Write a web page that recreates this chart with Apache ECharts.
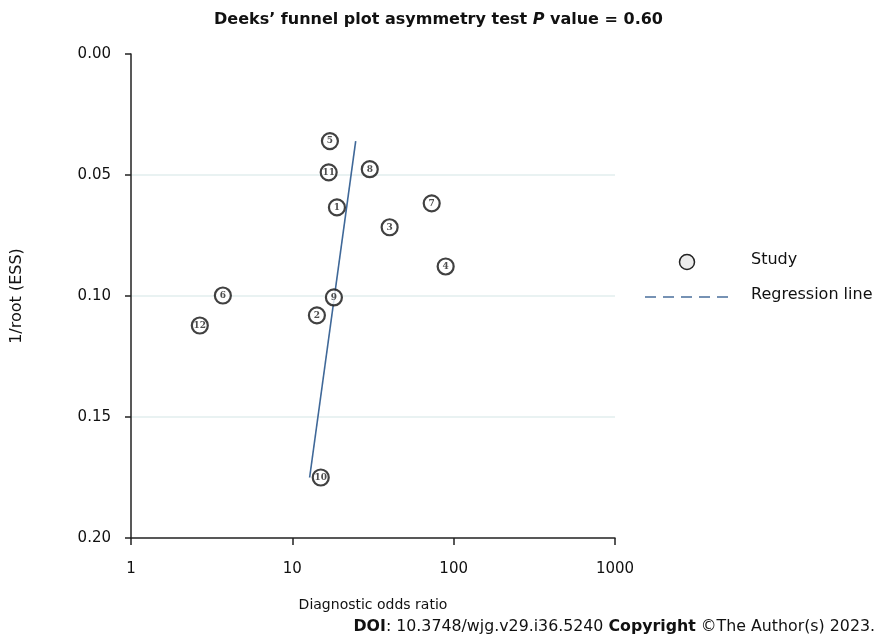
<!DOCTYPE html>
<html><head><meta charset="utf-8">
<script src="https://cdn.jsdelivr.net/npm/echarts@6/dist/echarts.min.js"></script>
<style>html,body{margin:0;padding:0;background:#fff}#c{width:877px;height:643px}</style>
</head><body><div id="c"></div>
<script>
// Study data
const studyIds = ['1','2','3','4','5','6','7','8','9','10','11','12'];
const dor = [18.9, 14.2, 40.1, 89.2, 17.1, 3.71, 73.1, 30.2, 18.1, 15.0, 16.8, 2.67];
const invRootEss = [0.0634, 0.108, 0.0716, 0.0878, 0.036, 0.0998, 0.0617, 0.0476, 0.1006, 0.175, 0.0489, 0.1122];
// Regression line end points
const regX = [12.8, 24.7];
const regY = [0.175, 0.036];
const yTicks = [0, 0.05, 0.10, 0.15, 0.20];
const xTicks = [1, 10, 100, 1000];

const font = 'DejaVu Sans';
const chart = echarts.init(document.getElementById('c'));
chart.setOption({
  animation: false,
  backgroundColor: '#fff',
  title: {
    text: 'Deeks’ funnel plot asymmetry test {i|P} value = 0.60',
    left: 'center', top: 7,
    textStyle: {fontFamily: font, fontSize: 16, fontWeight: 'bold', color: '#111',
      rich: {i: {fontFamily: font, fontSize: 16, fontWeight: 'bold', fontStyle: 'italic', color: '#111'}}}
  },
  grid: {left: 131, right: 262, top: 54, bottom: 105},
  xAxis: {
    type: 'log', logBase: 10, min: xTicks[0], max: xTicks[xTicks.length - 1],
    position: 'bottom',
    name: 'Diagnostic odds ratio', nameLocation: 'middle', nameGap: 60,
    nameTextStyle: {fontFamily: font, fontSize: 14, color: '#111'},
    axisLine: {show: true, onZero: false, lineStyle: {color: '#222', width: 1.5}},
    axisTick: {show: true, inside: false, length: 7, lineStyle: {color: '#222', width: 1.5}},
    minorTick: {show: false},
    axisLabel: {fontFamily: font, fontSize: 15, color: '#111', margin: 24,
      formatter: v => String(Math.round(v))},
    splitLine: {show: false}
  },
  yAxis: {
    type: 'value', inverse: true, min: yTicks[0], max: yTicks[yTicks.length - 1], interval: 0.05,
    name: '1/root (ESS)', nameLocation: 'middle', nameGap: 106, nameRotate: 90,
    nameTextStyle: {fontFamily: font, fontSize: 16, color: '#111'},
    axisLine: {show: true, onZero: false, lineStyle: {color: '#222', width: 1.5}},
    axisTick: {show: true, inside: false, length: 6, lineStyle: {color: '#222', width: 1.5}},
    axisLabel: {fontFamily: font, fontSize: 15, color: '#111', margin: 20,
      formatter: v => v.toFixed(2)},
    splitLine: {show: true, showMinLine: false, showMaxLine: false,
      lineStyle: {color: '#e2eeee', width: 1.5}}
  },
  series: [
    {
      type: 'line', name: 'Regression line',
      data: regX.map((x, i) => [x, regY[i]]),
      symbol: 'none', z: 2,
      lineStyle: {color: '#3f6898', width: 1.6}
    },
    {
      type: 'scatter', name: 'Study',
      data: dor.map((x, i) => ({value: [x, invRootEss[i]], name: studyIds[i]})),
      symbol: 'circle', symbolSize: 16, z: 3,
      itemStyle: {color: '#fff', borderColor: '#111', borderWidth: 2.2},
      label: {show: true, position: 'inside', formatter: p => p.name,
        fontFamily: 'DejaVu Serif', fontSize: 9, fontWeight: 'bold', color: '#222'}
    }
  ],
  graphic: [
    {type: 'circle', shape: {cx: 687, cy: 262, r: 7.5}, style: {fill: '#ececec', stroke: '#222', lineWidth: 1.5}},
    {type: 'text', left: 751, top: 252, style: {text: 'Study', font: '16px "DejaVu Sans"', fill: '#111'}},
    {type: 'line', shape: {x1: 645, y1: 297, x2: 731, y2: 297}, style: {stroke: '#4a6f9c', lineWidth: 1.5, lineDash: [11, 7]}},
    {type: 'text', left: 751, top: 287, style: {text: 'Regression line', font: '16px "DejaVu Sans"', fill: '#111'}},
    {type: 'text', right: 2, top: 619, style: {
      text: '{b|DOI}: 10.3748/wjg.v29.i36.5240 {b|Copyright} ©The Author(s) 2023.',
      font: '15.8px "DejaVu Sans"', fill: '#111',
      rich: {b: {fontWeight: 'bold', fontSize: 15.8, fontFamily: font, fill: '#111'}}}}
  ]
});
</script></body></html>
